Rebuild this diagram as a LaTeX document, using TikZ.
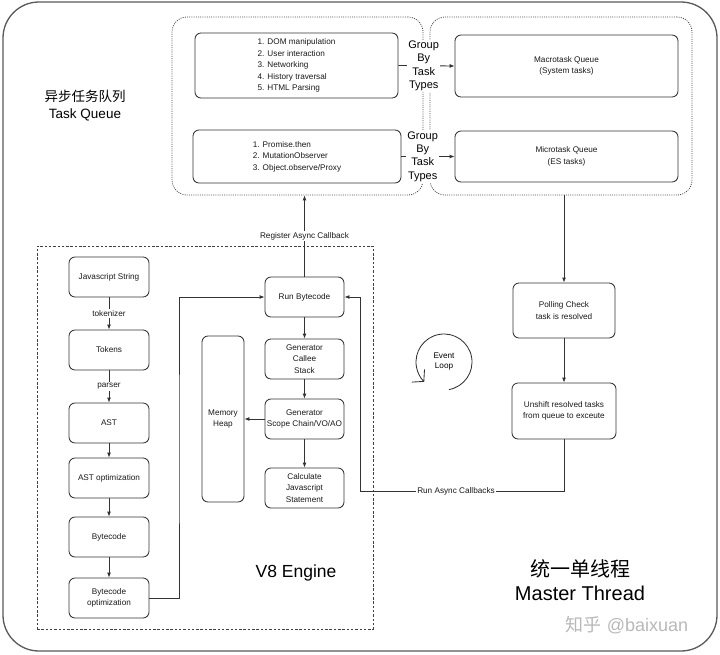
\documentclass[tikz,border=0pt]{standalone}
\usepackage{fontspec}
\setmainfont{Liberation Sans}
\newfontfamily\cjk{Noto Sans CJK SC}
\usetikzlibrary{arrows.meta}
\begin{document}
\begin{tikzpicture}[x=1pt,y=-1pt,
  line/.style={draw=black!80, line width=0.85pt},
  box/.style={line, rounded corners=6pt, align=center, inner sep=0pt,
    font=\fontsize{8.2}{11.5}\selectfont, text=black!90},
  arr/.style={line, -{Latex[length=5pt,width=4pt]}},
  lbl/.style={fill=white, inner sep=1pt, font=\fontsize{8.2}{10}\selectfont, text=black!90},
  grp/.style={fill=white, inner sep=1pt, align=center, font=\fontsize{11}{13.4}\selectfont},
  qbox/.style={draw=black!70, line width=0.8pt, dash pattern=on 1pt off 1.2pt, rounded corners=15pt, inner sep=0pt},
  big/.style={align=center, text=black}
]
\useasboundingbox (0,0) rectangle (720,654);
% outer border
\draw[draw=black!65, line width=1.3pt, rounded corners=36pt] (3,2) rectangle (717,651);

% task queue containers
\node[qbox, minimum width=251pt, minimum height=178pt] (tql) at (297.5,106) {};
\node[qbox, minimum width=262pt, minimum height=178pt] (tqr) at (561,106) {};

% list boxes
\node[box, minimum width=203pt, minimum height=65pt] (mlist) at (296.5,65.5)
  {\begin{tabular}{@{}l@{}}1. DOM manipulation\\2. User interaction\\3. Networking\\4. History traversal\\5. HTML Parsing\end{tabular}};
\node[box, minimum width=208pt, minimum height=53pt] (ulist) at (297,156.5)
  {\begin{tabular}{@{}l@{}}1. Promise.then\\2. MutationObserver\\3. Object.observe/Proxy\end{tabular}};
\node[box, minimum width=223pt, minimum height=62pt] (macro) at (566.5,66) {Macrotask Queue\\(System tasks)};
\node[box, minimum width=223pt, minimum height=51pt] (micro) at (566.5,156.5) {Microtask Queue\\(ES tasks)};

\draw[arr] (mlist.east) -- node[grp, pos=0.45] {Group\\By\\Task\\Types} (macro.west);
\draw[arr] (ulist.east) -- node[grp, pos=0.4] {Group\\By\\Task\\Types} (micro.west);

% V8 engine container
\node[draw=black!75, line width=0.8pt, dash pattern=on 2.5pt off 1.8pt, minimum width=336pt, minimum height=383pt, inner sep=0pt] (v8) at (205,437.5) {};

% left column
\node[box, minimum width=80pt, minimum height=40pt] (js) at (109,277) {Javascript String};
\node[box, minimum width=80pt, minimum height=40pt] (tok) at (109,350) {Tokens};
\node[box, minimum width=80pt, minimum height=40pt] (ast) at (109,423) {AST};
\node[box, minimum width=80pt, minimum height=40pt] (asto) at (109,478) {AST optimization};
\node[box, minimum width=80pt, minimum height=40pt] (bc) at (109,537) {Bytecode};
\node[box, minimum width=80pt, minimum height=40pt] (bco) at (109,598) {Bytecode\\optimization};

\draw[arr] (js) -- node[lbl] {tokenizer} (tok);
\draw[arr] (tok) -- node[lbl] {parser} (ast);
\draw[arr] (ast) -- (asto);
\draw[arr] (asto) -- (bc);
\draw[arr] (bc) -- (bco);

% right column of engine
\node[box, minimum width=79pt, minimum height=40pt] (run) at (304.5,297) {Run Bytecode};
\node[box, minimum width=79pt, minimum height=40pt] (gcs) at (304.5,359) {Generator\\Callee\\Stack};
\node[box, minimum width=79pt, minimum height=40pt] (gsc) at (304.5,419) {Generator\\Scope Chain/VO/AO};
\node[box, minimum width=79pt, minimum height=40pt] (calc) at (304.5,488) {Calculate\\Javascript\\Statement};
\node[box, minimum width=42pt, minimum height=166pt] (heap) at (223,419) {Memory\\Heap};

\draw[arr] (run) -- (gcs);
\draw[arr] (gcs) -- (gsc);
\draw[arr] (gsc) -- (calc);
\draw[arr] (gsc) -- (heap);

\coordinate (bcx) at (179,450);
\draw[arr] (bco.east) -| (bcx) |- (run.west);

% register async callback
\draw[arr] (run.north) -- node[lbl] {Register Async Callback} (run.north |- tql.south);

% event loop side
\node[box, minimum width=102pt, minimum height=55pt] (poll) at (564,310.5) {Polling Check\\task is resolved};
\node[box, minimum width=104pt, minimum height=56pt] (unsh) at (564,411) {Unshift resolved tasks\\from queue to exceute};
\draw[arr] (poll.north |- tqr.south) -- (poll.north);
\draw[arr] (poll) -- (unsh);

\coordinate (rc) at (360,491);
\draw[arr] (unsh.south) |- (rc) |- (run.east);
\node[lbl] (rac) at (456,491) {Run Async Callbacks};

% event loop symbol
\coordinate (el) at (444,362);
\draw[line, -{Straight Barb[length=8pt,width=18pt]}] (el) ++(80:28) arc[start angle=80, end angle=-225, radius=28];
\node[align=center, font=\fontsize{8.2}{10}\selectfont] (elt) at (el) {Event\\Loop};

% big labels
\node[big, font=\fontsize{13.5}{17}\selectfont] (tqlabel) at (85,106) {{\cjk 异步任务队列}\\Task Queue};
\node[big, font=\fontsize{17.5}{20}\selectfont] (v8label) at (296,573) {V8 Engine};
\node[big, font=\fontsize{20}{24}\selectfont] (mtlabel) at (580,580) {{\cjk 统一单线程}\\Master Thread};
\node[big, text=black!28, font=\fontsize{18}{20}\selectfont] (wm) at (627,625) {{\cjk 知乎} @baixuan};
\end{tikzpicture}
\end{document}
